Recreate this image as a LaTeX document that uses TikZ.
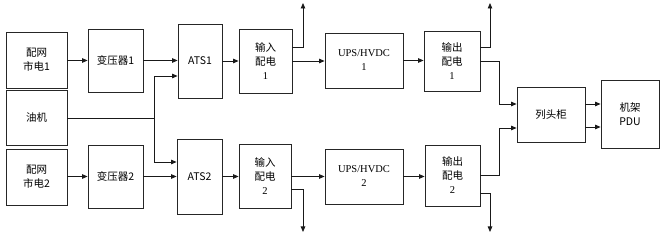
\documentclass[tikz,border=0pt]{standalone}
\usepackage{fontspec}
\setmainfont{Liberation Serif}
\newfontfamily\cjk{Noto Sans CJK SC}
\usepackage{tikz}
\usetikzlibrary{arrows.meta,calc}
\tikzset{
  pBox/.style={draw=black!85,line width=.8pt,align=center,inner sep=1pt,
        font=\cjk\fontsize{10.5}{14}\selectfont},
  pSerif/.style={pBox,font=\rmfamily\fontsize{10.5}{14}\selectfont},
  sz/.style 2 args={minimum width=#1pt,minimum height=#2pt},
  pLine/.style={line width=.8pt,draw=black!90},
  pArr/.style={pLine,-{Triangle[length=5.5pt,width=4.5pt]}},
}

\begin{document}
\begin{tikzpicture}[x=1pt,y=-1pt]
\useasboundingbox (0,0) rectangle (668,245);
\node[pBox,sz={61}{56}]  (s1)  at (36.5,60)    {配网\\市电1};
\node[pBox,sz={61}{55}]  (oil) at (36.5,118)   {油机};
\node[pBox,sz={61}{56}]  (s2)  at (36.5,177)   {配网\\市电2};
\node[pBox,sz={55}{63}]  (t1)  at (115.5,60.5) {变压器1};
\node[pBox,sz={55}{63}]  (t2)  at (115.5,176.5) {变压器2};
\node[pBox,sz={44}{74}]  (a1)  at (200,61)     {ATS1};
\node[pBox,sz={45}{75}]  (a2)  at (199.5,176.5) {ATS2};
\node[pBox,sz={53}{64}]  (i1)  at (265.5,61)   {输入\\配电\\{\rmfamily 1}};
\node[pBox,sz={52}{64}]  (i2)  at (265,176)    {输入\\配电\\{\rmfamily 2}};
\node[pSerif,sz={78}{55}] (u1) at (364,60.5)   {UPS/HVDC\\1};
\node[pSerif,sz={78}{55}] (u2) at (364,176.5)  {UPS/HVDC\\2};
\node[pBox,sz={56}{60}]  (o1)  at (452,61)     {输出\\配电\\{\rmfamily 1}};
\node[pBox,sz={55}{61}]  (o2)  at (452.5,175.5) {输出\\配电\\{\rmfamily 2}};
\node[pBox,sz={68}{55}]  (col) at (551,114.5)  {列头柜};
\node[pBox,sz={58}{68}]  (pdu) at (630,114)    {机架\\PDU};
\coordinate (jn)   at (154,118);
\coordinate (i1up) at (303,3);
\coordinate (i2dn) at (303,232);
\coordinate (o1up) at (490,3);
\coordinate (o2dn) at (490,232);
\draw[pArr] (s1.east |- t1.west) -- (t1.west);
\draw[pArr] (t1.east) -- (t1.east -| a1.west);
\draw[pArr] (s2.east |- t2.west) -- (t2.west);
\draw[pArr] (t2.east) -- (t2.east -| a2.west);
\draw[pLine] (oil.east) -- (jn);
\draw[pArr] (jn) |- ([yshift=-15pt]a1.west);
\draw[pArr] (jn) |- ([yshift=14.5pt]a2.west);
\draw[pArr] (a1.east) -- (a1.east -| i1.west);
\draw[pArr] (a2.east) -- (a2.east -| i2.west);
\draw[pArr] ([yshift=14pt]i1.east) -| (i1up);
\draw[pArr] (i1.east) -- (i1.east -| u1.west);
\draw[pArr] ([yshift=-13pt]i2.east) -| (i2dn);
\draw[pArr] (i2.east |- u2.west) -- (u2.west);
\draw[pArr] (u1.east) -- (u1.east -| o1.west);
\draw[pArr] (u2.east) -- (u2.east -| o2.west);
\draw[pArr] ([yshift=14pt]o1.east) -| (o1up);
\draw[pArr] (o1.east) -- ++(19,0) |- ([yshift=10.5pt]col.west);
\draw[pArr] (o2.east) -- ++(19,0) |- ([yshift=-13.5pt]col.west);
\draw[pArr] ([yshift=-17.5pt]o2.east) -| (o2dn);
\draw[pArr] ([yshift=10.5pt]col.east) -- ([yshift=10.5pt]col.east -| pdu.west);
\draw[pArr] ([yshift=-12.5pt]col.east) -- ([yshift=-12.5pt]col.east -| pdu.west);
\end{tikzpicture}
\end{document}
